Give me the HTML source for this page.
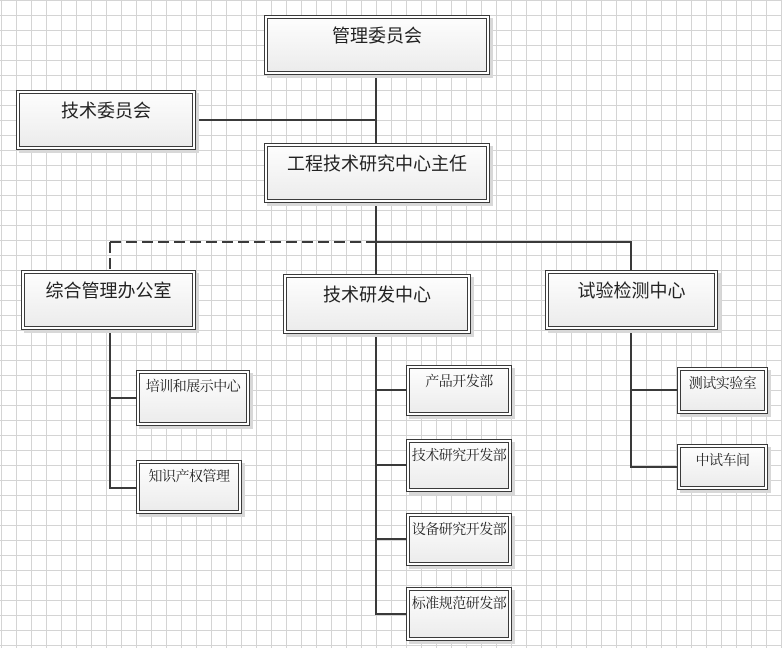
<!DOCTYPE html>
<html><head><meta charset="utf-8"><style>
html,body{margin:0;padding:0;}
body{width:782px;height:648px;position:relative;overflow:hidden;background-color:#fff;
background-image:linear-gradient(to right,#d4d4d4 1px,transparent 1px),linear-gradient(to bottom,#d4d4d4 1px,transparent 1px);
background-size:15px 15px;background-position:1px 0;}
.b{position:absolute;box-sizing:border-box;border:1px solid #3a3a3a;background:#fff;box-shadow:3px 3px 0 #d8d8d8;}
.b>div{position:absolute;left:2px;top:2px;right:2px;bottom:2px;border:1px solid #3a3a3a;background:linear-gradient(#fdfdfd,#ececec);text-align:center;color:#222;white-space:nowrap;}
.L>div{font:18px "Liberation Sans","Noto Sans CJK SC",sans-serif;padding-top:3px;}
.S>div{font:14px "Liberation Serif","Noto Serif CJK SC",serif;padding-top:2px;letter-spacing:-0.5px;}
svg{position:absolute;left:0;top:0;}
</style></head><body>
<svg width="782" height="648">
<g stroke="#3a3a3a" stroke-width="2" fill="none">
<path d="M376 75V274M196 120H376M376 242H631V270"/>
<path d="M110 242H376M110 242V270" stroke-dasharray="11 5"/>
<path d="M110 330V488H136M110 398H136"/>
<path d="M376 334V614H406M376 390H406M376 465H406M376 539H406"/>
<path d="M631 330V467H677M631 390H677"/>
</g></svg>
<div class="b L" style="left:264px;top:15px;width:226px;height:60px"><div>管理委员会</div></div>
<div class="b L" style="left:16px;top:90px;width:180px;height:60px"><div>技术委员会</div></div>
<div class="b L" style="left:264px;top:143px;width:226px;height:60px"><div>工程技术研究中心主任</div></div>
<div class="b L" style="left:21px;top:270px;width:175px;height:60px"><div>综合管理办公室</div></div>
<div class="b L" style="left:283px;top:274px;width:188px;height:60px"><div>技术研发中心</div></div>
<div class="b L" style="left:545px;top:270px;width:173px;height:60px"><div>试验检测中心</div></div>
<div class="b S" style="left:136px;top:370px;width:114px;height:56px"><div>培训和展示中心</div></div>
<div class="b S" style="left:136px;top:460px;width:106px;height:54px"><div>知识产权管理</div></div>
<div class="b S" style="left:406px;top:365px;width:106px;height:51px"><div>产品开发部</div></div>
<div class="b S" style="left:406px;top:439px;width:106px;height:53px"><div>技术研究开发部</div></div>
<div class="b S" style="left:406px;top:513px;width:106px;height:53px"><div>设备研究开发部</div></div>
<div class="b S" style="left:406px;top:587px;width:106px;height:54px"><div>标准规范研发部</div></div>
<div class="b S" style="left:677px;top:367px;width:91px;height:47px"><div>测试实验室</div></div>
<div class="b S" style="left:677px;top:444px;width:91px;height:46px"><div>中试车间</div></div>
</body></html>
